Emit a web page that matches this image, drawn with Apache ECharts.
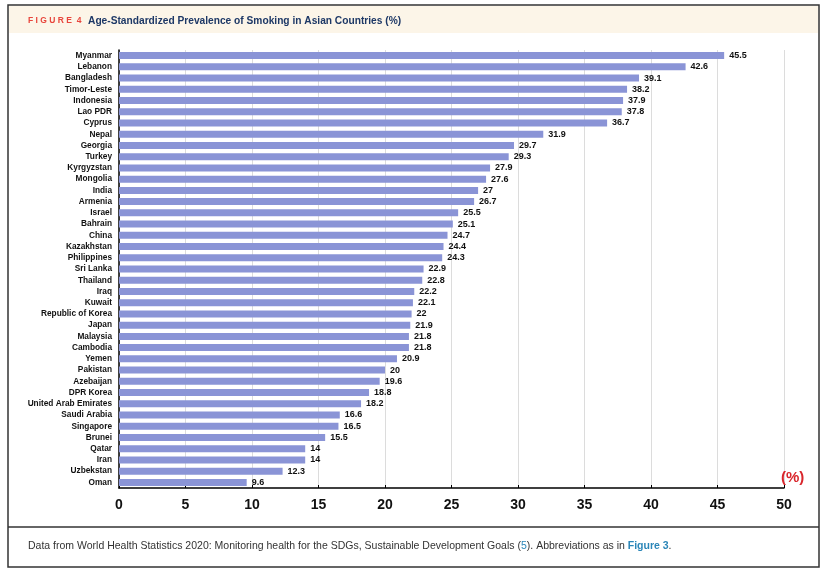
<!DOCTYPE html>
<html><head><meta charset="utf-8">
<script src="https://cdn.jsdelivr.net/npm/echarts@6/dist/echarts.min.js"></script>
<style>html,body{margin:0;padding:0;background:#fff}#c{width:830px;height:577px}</style>
</head><body><div id="c"></div>
<script>
const countries = ["Myanmar","Lebanon","Bangladesh","Timor-Leste","Indonesia","Lao PDR","Cyprus","Nepal","Georgia","Turkey","Kyrgyzstan","Mongolia","India","Armenia","Israel","Bahrain","China","Kazakhstan","Philippines","Sri Lanka","Thailand","Iraq","Kuwait","Republic of Korea","Japan","Malaysia","Cambodia","Yemen","Pakistan","Azebaijan","DPR Korea","United Arab Emirates","Saudi Arabia","Singapore","Brunei","Qatar","Iran","Uzbekstan","Oman"];
const prevalence = [45.5,42.6,39.1,38.2,37.9,37.8,36.7,31.9,29.7,29.3,27.9,27.6,27,26.7,25.5,25.1,24.7,24.4,24.3,22.9,22.8,22.2,22.1,22,21.9,21.8,21.8,20.9,20,19.6,18.8,18.2,16.6,16.5,15.5,14,14,12.3,9.6];
const xTicks = [0,5,10,15,20,25,30,35,40,45,50];

const FF = 'Liberation Sans, Arial, sans-serif';
const chart = echarts.init(document.getElementById('c'));
chart.setOption({
  animation:false,
  grid:{left:119,right:46,top:50,bottom:89},
  xAxis:{type:'value',min:0,max:50,interval:5,
    axisLine:{show:true,lineStyle:{color:'#000',width:1.5}},
    axisTick:{show:true,inside:true,length:3,lineStyle:{color:'#000'}},
    splitLine:{show:true,lineStyle:{color:'#dcdcdc',width:1}},
    axisLabel:{fontSize:14,fontWeight:'bold',color:'#111',margin:10,fontFamily:FF,
      formatter:v=>xTicks.includes(v)?String(v):''}},
  yAxis:{type:'category',data:countries,inverse:true,
    axisLine:{show:true,lineStyle:{color:'#000',width:1.5}},
    axisTick:{show:false},
    axisLabel:{interval:0,fontSize:8.3,fontWeight:'bold',color:'#111',margin:7,fontFamily:FF}},
  series:[{type:'bar',data:prevalence,barWidth:7,itemStyle:{color:'#8a94d6'},
    label:{show:true,position:'right',distance:5,fontSize:9,fontWeight:'bold',color:'#111',fontFamily:FF}}],
  graphic:[
    {type:'rect',shape:{x:8,y:5,width:811,height:562},style:{fill:'none',stroke:'#333',lineWidth:1.5},z:-1},
    {type:'rect',shape:{x:9,y:6,width:809,height:27},style:{fill:'#fcf5e8'},z:-2},
    {type:'line',shape:{x1:8,y1:527,x2:819,y2:527},style:{stroke:'#333',lineWidth:1.5}},
    {type:'text',left:28,top:15,style:{rich:{
        a:{fill:'#e8453c',fontWeight:'bold',fontSize:8.5,fontFamily:FF},
        b:{fill:'#1d3866',fontWeight:'bold',fontSize:10.2,fontFamily:FF}},
      text:'{a|F I G U R E  4}  {b|Age-Standardized Prevalence of Smoking in Asian Countries (%)}'}},
    {type:'text',left:781,top:470,z:100,style:{text:'(%)',fill:'#d9262c',fontWeight:'bold',fontSize:15,fontFamily:FF}},
    {type:'text',left:28,top:541,style:{rich:{
        n:{fill:'#333',fontSize:10.5,fontFamily:FF},
        l:{fill:'#2b86b8',fontSize:10.5,fontFamily:FF},
        f:{fill:'#2b86b8',fontSize:10.5,fontWeight:'bold',fontFamily:FF}},
      text:'{n|Data from World Health Statistics 2020: Monitoring health for the SDGs, Sustainable Development Goals (}{l|5}{n|). Abbreviations as in }{f|Figure 3}{n|.}'}}
  ]
});
</script></body></html>
